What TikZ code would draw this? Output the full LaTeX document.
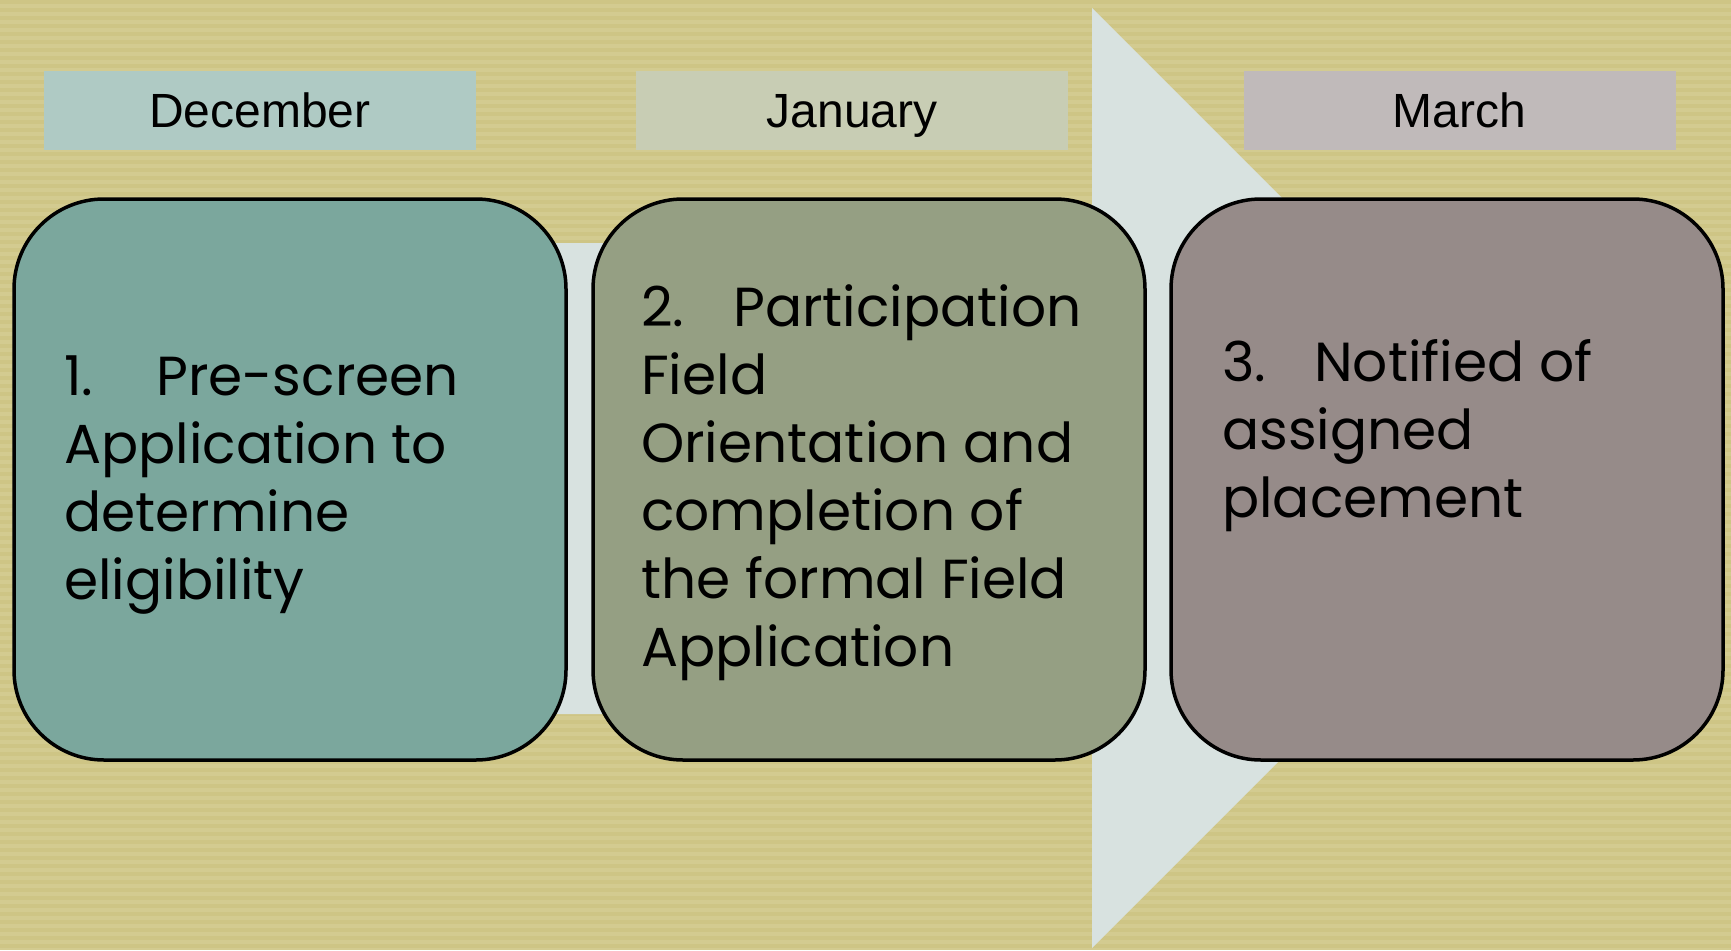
\documentclass[tikz,border=0pt]{standalone}
\usepackage{fontspec}
\setmainfont{Liberation Sans}
\newfontfamily\stepfont{Poppins}
\definecolor{paper}{HTML}{D3CB90}
\definecolor{paperline}{HTML}{CEC585}
\definecolor{arrowfill}{HTML}{D8E2E0}
\definecolor{decfill}{HTML}{AFCAC4}
\definecolor{janfill}{HTML}{C8CDB4}
\definecolor{marfill}{HTML}{C0BABA}
\definecolor{onefill}{HTML}{7BA79D}
\definecolor{twofill}{HTML}{959F83}
\definecolor{threefill}{HTML}{968B89}
\newcommand{\stepno}[1]{\makebox[92pt][l]{#1}}
\tikzset{
  month/.style={minimum width=432pt, minimum height=79pt, inner sep=0pt,
    text height=34pt, text depth=0pt, font=\fontsize{48}{56}\selectfont},
  stepbox/.style={draw=black, line width=3.5pt, rounded corners=90pt,
    minimum width=552pt, minimum height=561pt, inner sep=0pt},
  steptext/.style={anchor=north west, inner sep=0pt, align=left,
    font=\stepfont\fontsize{55}{68}\selectfont},
}
\begin{document}
\begin{tikzpicture}[x=1pt,y=-1pt]
\fill[paper] (0,0) rectangle (1731,950);
\foreach \y in {0,8,...,944}
  \fill[paperline] (0,\y) rectangle (1731,\y+4);
\useasboundingbox (0,0) rectangle (1731,950);
% arrow behind the steps
\fill[arrowfill] (40,243) -- (1092,243) -- (1092,8) -- (1562,478)
  -- (1092,948) -- (1092,714) -- (40,714) -- cycle;
% months
\node[month, fill=decfill] (dec) at (260,110.5) {December};
\node[month, fill=janfill] (jan) at (852,110.5) {January};
\node[month, fill=marfill] (mar) at (1459.5,110.5) {March};
% steps
\node[stepbox, fill=onefill] (one) at (290,479.5) {};
\node[stepbox, fill=twofill] (two) at (869,479.5) {};
\node[stepbox, fill=threefill] (three) at (1447,479.5) {};
\node[steptext] (onetext) at (64,356) {\stepno{1.}Pre-screen\\Application to\\determine\\eligibility};
\node[steptext] (twotext) at (641,284) {\stepno{2.}Participation\\Field\\Orientation and\\completion of\\the formal Field\\Application};
\node[steptext] (threetext) at (1222,339) {\stepno{3.}Notified of\\assigned\\placement};
\end{tikzpicture}
\end{document}
